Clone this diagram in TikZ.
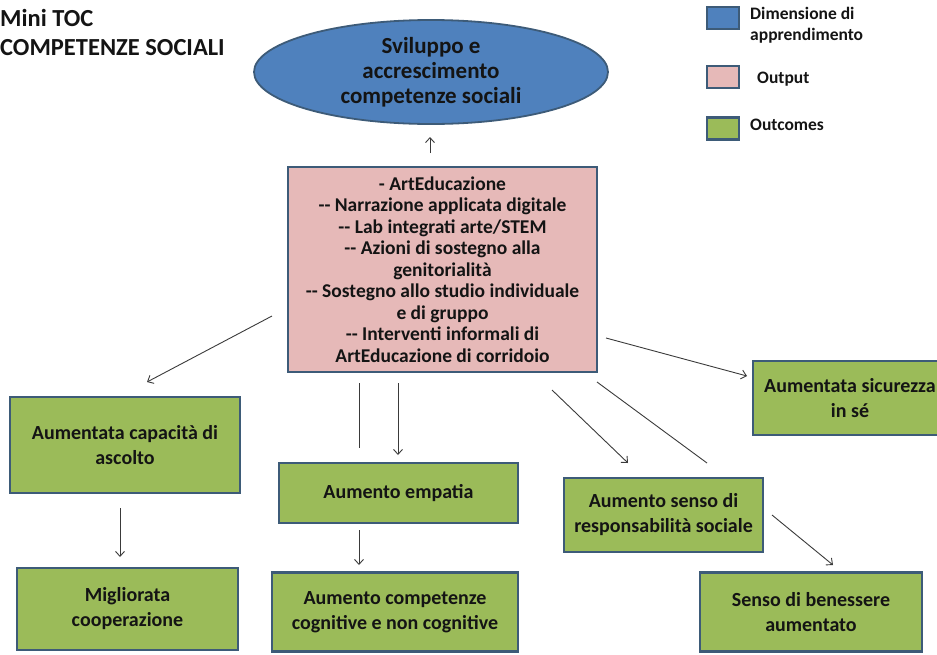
\documentclass[tikz,border=0pt]{standalone}
\usepackage{fontspec}
\setmainfont{Carlito}
\usetikzlibrary{arrows.meta,shapes.geometric}
\definecolor{dimblue}{HTML}{4F81BD}
\definecolor{outpink}{HTML}{E6B9B8}
\definecolor{outgreen}{HTML}{9BBB59}
\definecolor{edgeblue}{HTML}{3D5B78}
\definecolor{inkgray}{HTML}{3A3A3A}
\definecolor{txt}{HTML}{141414}
\tikzset{
  box/.style={draw=edgeblue, line width=2.6pt, align=center, inner sep=2pt,
    text=txt, font=\bfseries\fontsize{20}{25}\selectfont},
  greenbox/.style={box, fill=outgreen},
  pinkbox/.style={box, fill=outpink},
  legsq/.style={draw=edgeblue, line width=2.2pt, minimum width=32pt, minimum height=22pt, inner sep=0pt},
  legtxt/.style={anchor=west, align=left, text=txt, inner sep=0pt,
    font=\bfseries\fontsize{17.5}{21}\selectfont},
  flow/.style={draw=inkgray, line width=0.9pt, -{Straight Barb[length=5pt,width=9pt,line width=0.9pt]}},
  bare/.style={draw=inkgray, line width=0.9pt}
}
\begin{document}
\begin{tikzpicture}[x=1pt,y=-1pt]
\useasboundingbox (0,0) rectangle (937,654);

% title
\node[anchor=west, align=left, inner sep=0pt, text=txt,
  font=\bfseries\fontsize{24.5}{29}\selectfont] (title) at (0,32)
  {Mini TOC\\COMPETENZE SOCIALI};

% learning dimension
\node[draw=edgeblue, line width=1.8pt, fill=dimblue, ellipse, minimum width=354pt,
  minimum height=104pt, inner sep=0pt, align=center, text=txt,
  font=\bfseries\fontsize{23}{25}\selectfont] (dim) at (431,72)
  {Sviluppo e\\accrescimento\\competenze sociali};

% outputs
\node[pinkbox, minimum width=309pt, minimum height=205pt,
  font=\bfseries\fontsize{19.5}{21.5}\selectfont] (out) at (442.5,269.5)
  {- ArtEducazione\\-{}- Narrazione applicata digitale\\-{}- Lab integrati arte/STEM\\-{}- Azioni di sostegno alla\\genitorialità\\-{}- Sostegno allo studio individuale\\e di gruppo\\-{}- Interventi informali di\\ArtEducazione di corridoio};

% outcomes
\node[greenbox, minimum width=230pt, minimum height=96pt] (ascolto) at (125,445)
  {Aumentata capacità di\\ascolto};
\node[greenbox, minimum width=221pt, minimum height=82pt] (coop) at (127.5,609)
  {Migliorata\\cooperazione};
\node[greenbox, minimum width=239pt, minimum height=60pt] (empatia) at (398.5,493)
  {Aumento empatia};
\node[greenbox, minimum width=246pt, minimum height=79pt] (cogn) at (395,612)
  {Aumento competenze\\cognitive e non cognitive};
\node[greenbox, minimum width=194pt, minimum height=74pt] (sicur) at (850,398)
  {Aumentata sicurezza\\in sé};
\node[greenbox, minimum width=199pt, minimum height=74pt] (resp) at (663.5,515)
  {Aumento senso di\\responsabilità sociale};
\node[greenbox, minimum width=222pt, minimum height=79pt] (ben) at (811,612)
  {Senso di benessere\\aumentato};

% legend
\node[legsq, fill=dimblue] (lg1) at (723,18) {};
\node[legtxt] (lt1) at (750,25) {Dimensione di\\apprendimento};
\node[legsq, fill=outpink] (lg2) at (723,77) {};
\node[legtxt] (lt2) at (757,79) {Output};
\node[legsq, fill=outgreen] (lg3) at (723,128.5) {};
\node[legtxt] (lt3) at (750,125) {Outcomes};

% connector end points
\coordinate (upA) at (430,153);
\coordinate (upB) at (430,137);
\coordinate (lA) at (272,316);
\coordinate (lB) at (147,382);
\coordinate (vA) at (359,383);
\coordinate (vB) at (359,448);
\coordinate (wA) at (398,383);
\coordinate (wB) at (398,455);
\coordinate (rA) at (606,338);
\coordinate (rB) at (747,376);
\coordinate (dA) at (552,390);
\coordinate (dB) at (628,463);
\coordinate (eA) at (597,382);
\coordinate (eB) at (707,463);
\coordinate (aA) at (120,508);
\coordinate (aB) at (120,557);
\coordinate (cA) at (359,530);
\coordinate (cB) at (359,565);
\coordinate (sA) at (772,515);
\coordinate (sB) at (833,565);

% connectors
\draw[flow] (upA) -- (upB);
\draw[flow] (lA) -- (lB);
\draw[bare] (vA) -- (vB);
\draw[flow] (wA) -- (wB);
\draw[flow] (rA) -- (rB);
\draw[flow] (dA) -- (dB);
\draw[bare] (eA) -- (eB);
\draw[flow] (aA) -- (aB);
\draw[flow] (cA) -- (cB);
\draw[flow] (sA) -- (sB);
\end{tikzpicture}
\end{document}
